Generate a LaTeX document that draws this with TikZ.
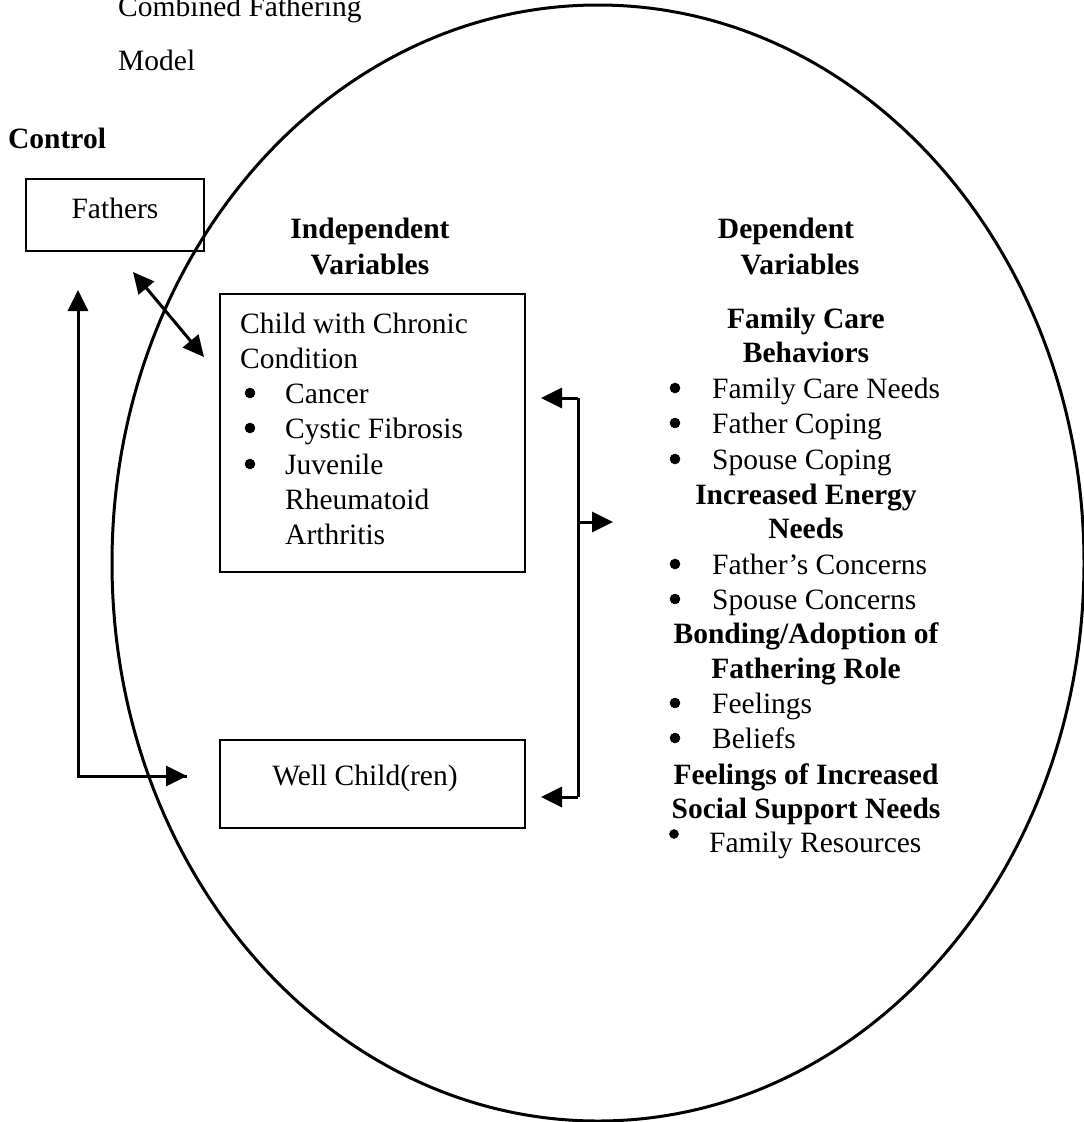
\documentclass[tikz,border=0pt]{standalone}
\usepackage{fontspec}
\setmainfont{Liberation Serif}
\usetikzlibrary{arrows.meta}
\begin{document}
\begin{tikzpicture}[x=1pt,y=-1pt,
  txt/.style={font=\fontsize{29.5}{35.5}\selectfont, inner sep=0pt},
  bld/.style={font=\fontsize{29.5}{35.5}\selectfont\bfseries, inner sep=0pt},
  boxed/.style={draw, line width=2.5pt, inner sep=0pt},
  dot/.style={circle, fill=black, draw=black, line width=0.5pt, inner sep=0pt, minimum size=10pt},
  arr/.style={line width=3pt, -{Triangle[length=21pt,width=20pt]}},
  darr/.style={line width=3pt, {Triangle[length=21pt,width=20pt]}-{Triangle[length=21pt,width=20pt]}},
  lin/.style={line width=3pt}]
\useasboundingbox (0,0) rectangle (1084,1122);

% big ellipse
\draw[line width=3pt] (598,563) ellipse [x radius=486pt, y radius=558pt];

% title (partly cut at top)
\node[txt, anchor=base west] (t1) at (118,16) {Combined Fathering};
\node[txt, anchor=base west] (t2) at (118,70) {Model};
\node[bld, anchor=base west] (ctl) at (8,148) {Control};

% boxes
\node[boxed, minimum width=178pt, minimum height=72pt] (fathers) at (115,215) {};
\node[txt, anchor=base] (fathersT) at (115,218) {Fathers};

\node[boxed, minimum width=305pt, minimum height=278pt] (child) at (372.5,433) {};
\node[boxed, minimum width=305pt, minimum height=88pt] (well) at (372.5,784) {};
\node[txt, anchor=base] (wellT) at (365,785) {Well Child(ren)};

% headings
\node[bld, anchor=base] (ind1) at (370,238) {Independent};
\node[bld, anchor=base] (ind2) at (370,274) {Variables};
\node[bld, anchor=base] (dep1) at (786,238) {Dependent};
\node[bld, anchor=base] (dep2) at (800,274) {Variables};

% child box contents
\node[txt, anchor=base west] (c1) at (240,333) {Child with Chronic};
\node[txt, anchor=base west] (c2) at (240,368) {Condition};
\node[dot] (cb1) at (250,393) {};
\node[txt, anchor=base west] (c3) at (285,403) {Cancer};
\node[dot] (cb2) at (250,428) {};
\node[txt, anchor=base west] (c4) at (285,438) {Cystic Fibrosis};
\node[dot] (cb3) at (250,464) {};
\node[txt, anchor=base west] (c5) at (285,474) {Juvenile};
\node[txt, anchor=base west] (c6) at (285,509) {Rheumatoid};
\node[txt, anchor=base west] (c7) at (285,544) {Arthritis};

% dependent list
\node[bld, anchor=base] (h1a) at (806,328) {Family Care};
\node[bld, anchor=base] (h1b) at (806,362) {Behaviors};
\node[dot] (b1) at (675,388) {};
\node[txt, anchor=base west] (d1) at (712,398) {Family Care Needs};
\node[dot] (b2) at (675,423) {};
\node[txt, anchor=base west] (d2) at (712,433) {Father Coping};
\node[dot] (b3) at (675,459) {};
\node[txt, anchor=base west] (d3) at (712,469) {Spouse Coping};
\node[bld, anchor=base] (h2a) at (806,504) {Increased Energy};
\node[bld, anchor=base] (h2b) at (806,538) {Needs};
\node[dot] (b4) at (675,564) {};
\node[txt, anchor=base west] (d4) at (712,574) {Father’s Concerns};
\node[dot] (b5) at (675,599) {};
\node[txt, anchor=base west] (d5) at (712,609) {Spouse Concerns};
\node[bld, anchor=base] (h3a) at (806,643) {Bonding/Adoption of};
\node[bld, anchor=base] (h3b) at (806,678) {Fathering Role};
\node[dot] (b6) at (675,703) {};
\node[txt, anchor=base west] (d6) at (712,713) {Feelings};
\node[dot] (b7) at (675,738) {};
\node[txt, anchor=base west] (d7) at (712,748) {Beliefs};
\node[bld, anchor=base] (h4a) at (806,784) {Feelings of Increased};
\node[bld, anchor=base] (h4b) at (806,818) {Social Support Needs};
\node[dot, minimum size=9pt] (b8) at (674,834) {};
\node[txt, anchor=base west] (d8) at (709,852) {Family Resources};

% connector coordinates
\coordinate (fa) at (133,272);
\coordinate (ca) at (204,357);
\coordinate (vtop) at (78,290);
\coordinate (corner) at (78,776);
\coordinate (wtip) at (187,776);
\coordinate (bt) at (578,398);
\coordinate (bm) at (578,522);
\coordinate (bb) at (578,797);
\coordinate (btTip) at (541,398);
\coordinate (bbTip) at (541,797);
\coordinate (bmTip) at (613,522);

% connectors
\draw[darr] (fa) -- (ca);
\draw[arr] (wtip) -| (vtop);
\draw[arr] (corner) -- (wtip);
\draw[lin] (bt) -- (bb);
\draw[arr] (bt) -- (btTip);
\draw[arr] (bb) -- (bbTip);
\draw[arr] (bm) -- (bmTip);
\end{tikzpicture}
\end{document}
